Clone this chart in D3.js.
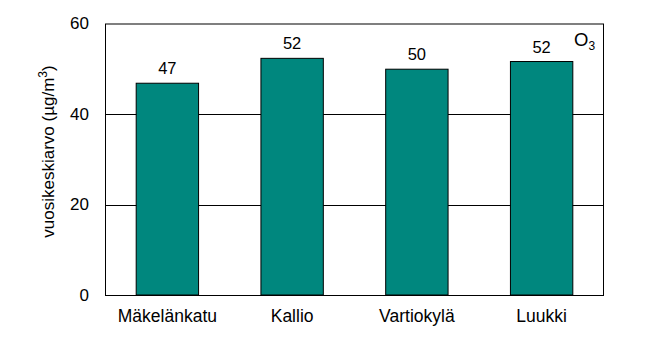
<!DOCTYPE html>
<html><head><meta charset="utf-8">
<script src="https://cdn.jsdelivr.net/npm/d3@7"></script>
<style>body{margin:0;background:#fff}svg{display:block}text{font-family:"Liberation Sans",Arial,sans-serif;fill:#000}</style>
</head><body>
<script>
const categories = ["Mäkelänkatu", "Kallio", "Vartiokylä", "Luukki"];
const values = [46.8, 52.3, 49.9, 51.6];
const valueLabels = ["47", "52", "50", "52"];
const yTicks = [0, 20, 40, 60];

const W = 672, H = 352;
const m = {left: 105, right: 68, top: 23.5, bottom: 57};
const FONT = '"Liberation Sans",Arial,sans-serif';
const svg = d3.select("body").append("svg").attr("width", W).attr("height", H);
const x = d3.scaleBand().domain(categories).range([m.left, W - m.right]).paddingInner(0.5).paddingOuter(0.25);
const y = d3.scaleLinear().domain([0, 60]).range([H - m.bottom, m.top]);

// gridlines
svg.append("g").selectAll("line").data(yTicks.filter(d => d > 0 && d < 60)).join("line")
  .attr("x1", m.left).attr("x2", W - m.right)
  .attr("y1", d => Math.round(y(d)) + 0.5).attr("y2", d => Math.round(y(d)) + 0.5)
  .attr("stroke", "#000").attr("stroke-width", 1);

// bars
svg.append("g").selectAll("rect").data(categories).join("rect")
  .attr("x", d => x(d)).attr("width", x.bandwidth())
  .attr("y", (d, i) => y(values[i])).attr("height", (d, i) => y(0) - y(values[i]))
  .attr("fill", "#00877e").attr("stroke", "#000").attr("stroke-width", 1);

// frame
svg.append("rect").attr("x", m.left + 0.5).attr("y", m.top + 0.5)
  .attr("width", W - m.right - m.left - 1).attr("height", H - m.bottom - m.top)
  .attr("fill", "none").attr("stroke", "#000").attr("stroke-width", 1);

// y axis
const ya = svg.append("g").attr("transform", `translate(${m.left},0)`)
  .call(d3.axisLeft(y).tickValues(yTicks).tickSize(0).tickPadding(16));
ya.select(".domain").remove();
ya.selectAll("text").attr("font-size", 17).style("font-family", FONT).attr("fill", "#000");

// x axis
const xa = svg.append("g").attr("transform", `translate(0,${H - m.bottom})`)
  .call(d3.axisBottom(x).tickSize(0));
xa.select(".domain").remove();
xa.selectAll("text").attr("font-size", 17.5).style("font-family", FONT).attr("fill", "#000")
  .attr("y", 27).attr("dy", 0);

// value labels
svg.append("g").selectAll("text").data(categories).join("text")
  .attr("x", d => x(d) + x.bandwidth() / 2).attr("y", (d, i) => y(values[i]) - 9)
  .attr("text-anchor", "middle").attr("font-size", 16.5).text((d, i) => valueLabels[i]);

// y title
svg.append("text").attr("transform", `translate(54,151.5) rotate(-90)`)
  .attr("text-anchor", "middle").attr("font-size", 17)
  .html('vuosikeskiarvo (µg/m<tspan dy="-7" font-size="12">3</tspan><tspan dy="7">)</tspan>');

// O3 label
svg.append("text").attr("x", 574).attr("y", 46).attr("font-size", 18.5)
  .html('O<tspan dy="4" font-size="12">3</tspan>');
</script>
</body></html>
